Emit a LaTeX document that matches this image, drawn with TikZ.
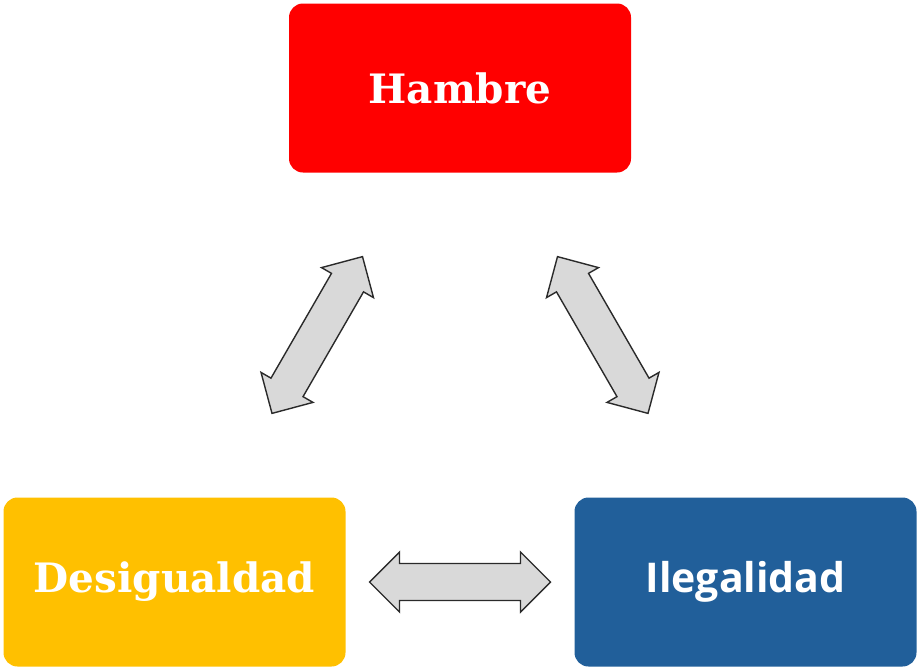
\documentclass[tikz,border=0pt]{standalone}
\usepackage{fontspec}
\usetikzlibrary{calc}
\newfontfamily\slabfont{DejaVu Serif}
\newfontfamily\boxsans{Open Sans}
\definecolor{hred}{HTML}{FF0000}
\definecolor{dyellow}{HTML}{FFC000}
\definecolor{iblue}{HTML}{215F9A}
\definecolor{arrowgray}{HTML}{D9D9D9}
\definecolor{arrowline}{HTML}{2A2A2A}
\tikzset{
  box/.style={rectangle, rounded corners=14pt, minimum width=342pt, minimum height=169pt, inner sep=0pt, text=white},
  slabtext/.style={font=\slabfont\bfseries\fontsize{40.5}{46}\selectfont},
  sanstext/.style={font=\boxsans\bfseries\fontsize{41}{47}\selectfont},
  dblarrow/.pic={
    \draw[fill=arrowgray, draw=arrowline, line width=1.4pt, line join=miter]
      (-90.5pt,0) -- (-60.5pt,30pt) -- (-60.5pt,18.5pt) -- (60.5pt,18.5pt) -- (60.5pt,30pt)
      -- (90.5pt,0) -- (60.5pt,-30pt) -- (60.5pt,-18.5pt) -- (-60.5pt,-18.5pt) -- (-60.5pt,-30pt) -- cycle;
  }
}
\begin{document}
\begin{tikzpicture}[x=1pt,y=-1pt]
\useasboundingbox (0,0) rectangle (917,667);
\node[box, fill=hred, slabtext] (H) at (460,88) {Hambre};
\node[box, fill=dyellow, slabtext] (D) at (174.5,582) {Desigualdad};
\node[box, fill=iblue, sanstext] (I) at (745.5,582) {Ilegalidad};
\coordinate (HD) at ($(H.south west)!0.5!(D.north east)$);
\coordinate (HI) at ($(H.south east)!0.5!(I.north west)$);
\coordinate (DI) at ($(D.east)!0.5!(I.west)$);
\pic[rotate=60] at (HD) {dblarrow};
\pic[rotate=-60] at (HI) {dblarrow};
\pic at (DI) {dblarrow};
\end{tikzpicture}
\end{document}
